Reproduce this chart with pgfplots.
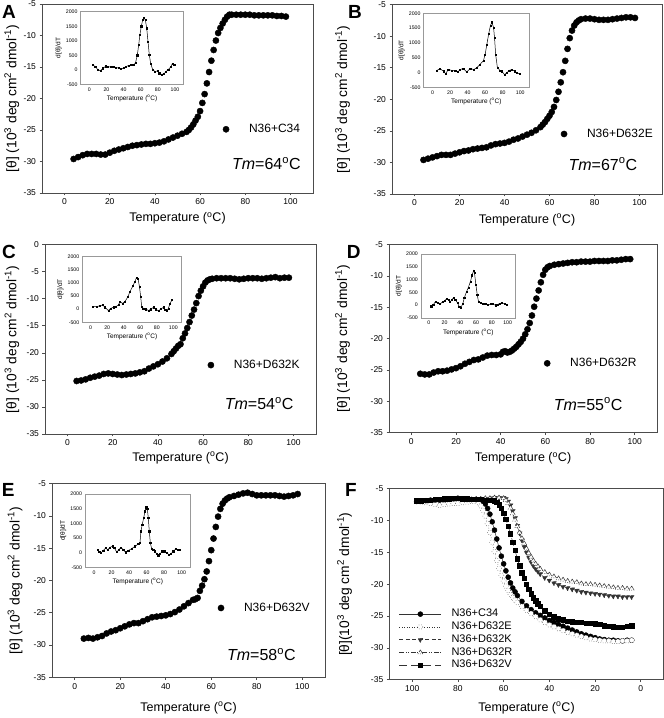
\documentclass[border=0pt]{standalone}
\usepackage{fontspec}
\setmainfont{Liberation Sans}
\usepackage{pgfplots}
\pgfplotsset{compat=1.18}
\usepackage{pgfplotstable}

% ---------- main curves (temperature, ellipticity) ----------
\pgfplotstableread{
t v
4 -29.6
6 -29.3
8 -29.0
10 -28.8
12 -28.8
14 -28.8
16 -28.9
18 -28.9
20 -28.6
22 -28.3
24 -28.1
26 -27.9
28 -27.7
30 -27.5
32 -27.4
34 -27.3
36 -27.2
38 -27.2
40 -27.1
42 -27.0
44 -26.8
46 -26.5
48 -26.2
50 -25.9
52 -25.6
54 -25.3
55 -25.0
56 -24.6
57 -24.1
58 -23.5
59 -22.9
60 -22.0
61 -20.7
62 -19.3
63 -17.6
64 -15.8
65 -14.0
66 -12.3
67 -10.8
68 -9.6
69 -8.8
70 -8.1
71 -7.5
72 -7.0
73 -6.7
74 -6.7
76 -6.7
78 -6.7
80 -6.7
82 -6.7
84 -6.8
86 -6.8
88 -6.8
90 -6.8
92 -6.8
94 -6.9
96 -6.9
98 -7.0
}\datA

\pgfplotstableread{
t v
4 -29.6
6 -29.4
8 -29.2
10 -29.0
12 -28.8
14 -28.8
16 -28.8
18 -28.6
20 -28.4
22 -28.2
24 -28.1
26 -27.9
28 -27.8
30 -27.7
32 -27.6
34 -27.3
36 -27.1
38 -27.0
40 -26.9
42 -26.7
44 -26.4
46 -26.2
48 -25.9
50 -25.6
52 -25.3
54 -24.9
56 -24.4
57 -24.0
58 -23.6
59 -23.1
60 -22.6
61 -22.0
62 -21.2
63 -20.1
64 -18.8
65 -17.3
66 -15.7
67 -13.9
68 -12.0
69 -10.3
70 -9.1
71 -8.3
72 -7.8
73 -7.5
74 -7.3
76 -7.2
78 -7.2
80 -7.3
82 -7.4
84 -7.4
86 -7.4
88 -7.3
90 -7.2
92 -7.1
94 -7.0
96 -7.0
98 -7.1
}\datB

\pgfplotstableread{
t v
4 -25.2
6 -25.1
8 -24.9
10 -24.6
12 -24.4
14 -24.2
16 -23.9
18 -23.8
20 -23.9
22 -24.0
24 -24.1
26 -24.0
28 -23.9
30 -23.8
32 -23.6
34 -23.4
36 -22.9
38 -22.5
40 -22.1
42 -21.6
44 -21.0
46 -20.2
47 -19.7
48 -19.2
49 -18.7
50 -18.4
51 -17.3
52 -16.4
53 -15.4
54 -14.3
55 -13.1
56 -12.0
57 -10.8
58 -9.5
59 -8.5
60 -7.7
61 -7.0
62 -6.6
63 -6.4
64 -6.3
66 -6.2
68 -6.2
70 -6.2
72 -6.2
74 -6.3
76 -6.4
78 -6.3
80 -6.2
82 -6.2
84 -6.2
86 -6.3
88 -6.2
90 -6.1
92 -6.0
94 -6.2
96 -6.1
98 -6.1
}\datC

\pgfplotstableread{
t v
4 -25.6
6 -25.7
8 -25.7
10 -25.4
12 -25.2
14 -25.2
16 -25.1
18 -24.9
20 -24.7
22 -24.4
24 -24.0
26 -23.7
28 -23.4
30 -23.3
32 -23.0
34 -22.7
36 -22.6
38 -22.6
40 -22.5
41 -22.1
42 -22.0
43 -22.2
44 -22.1
45 -21.9
46 -21.6
47 -21.3
48 -20.9
49 -20.5
50 -20.0
51 -19.3
52 -18.5
53 -17.5
54 -16.3
55 -14.9
56 -13.6
57 -12.3
58 -11.0
59 -9.8
60 -9.0
61 -8.6
62 -8.4
64 -8.2
66 -8.1
68 -8.0
70 -7.9
72 -7.8
74 -7.8
76 -7.7
78 -7.7
80 -7.7
82 -7.6
84 -7.6
86 -7.6
88 -7.6
90 -7.5
92 -7.5
94 -7.4
96 -7.3
98 -7.3
}\datD

\pgfplotstableread{
t v
4 -29.0
6 -28.9
8 -29.0
10 -28.8
12 -28.6
14 -28.2
16 -27.9
18 -27.7
20 -27.4
22 -27.1
24 -26.8
26 -26.6
28 -26.6
30 -26.3
32 -26.0
34 -25.7
36 -25.6
38 -25.5
40 -25.4
42 -25.2
44 -24.9
46 -24.5
48 -24.0
50 -23.5
52 -23.0
53 -22.9
54 -22.7
55 -21.6
56 -20.8
57 -19.8
58 -18.6
59 -17.0
60 -15.3
61 -13.5
62 -11.7
63 -10.1
64 -8.9
65 -8.1
66 -7.6
67 -7.3
68 -7.1
70 -6.9
72 -6.7
74 -6.5
76 -6.4
78 -6.6
80 -6.8
82 -6.8
84 -6.8
86 -6.8
88 -6.8
90 -6.9
92 -7.0
94 -6.9
96 -6.8
98 -6.6
}\datE

% ---------- insets: d[theta]/dT ----------
\pgfplotstableread{
t d
4 180
7 100
10 10
13 -40
16 50
19 120
22 100
25 100
28 100
31 80
34 60
37 30
40 60
43 110
46 150
49 160
52 160
54 250
56 500
57.6 850
59 1200
60.7 1500
62.3 1720
63.8 1800
65.4 1710
67 1430
68.5 970
70 510
71.6 220
74 0
76.7 -60
79.4 -40
81.7 -120
84.4 -160
87 -140
89.5 -60
92 0
95 100
97 220
99 180
}\insA

\pgfplotstableread{
t d
5 70
8.7 125
12.5 45
15 -45
18 100
22 70
26 70
29 20
31.5 100
35 135
39 20
43 135
47 100
50.5 160
54 270
58 390
60 610
62 950
64 1300
66 1580
67.7 1700
69.6 1520
70.7 1180
72 610
74 160
77 70
79 45
82 -70
85 -10
87.5 70
90.5 100
93.5 45
96 -10
99 -40
}\insB

\pgfplotstableread{
t d
3 95
7 95
11 130
14.5 160
17.5 70
21.5 -55
24 30
27.5 70
30.5 95
33.5 160
35.5 285
38.5 220
41.5 285
45 475
47.5 665
51 880
53.5 1050
55.5 1210
57.3 1170
59 860
60.5 475
61.7 95
63.7 30
67 0
70 -55
72.5 0
76 70
79 0
82 -70
84.7 5
88 70
90.3 -30
92 -70
94 30
96 220
98.4 350
}\insC

\pgfplotstableread{
t d
3 -45
5.6 20
8.6 150
11.6 85
14.2 45
17.2 125
20.2 175
22.7 255
24.9 215
27 125
29.2 215
31.3 280
33.5 215
36.5 85
38.6 -70
40.8 -85
42.9 45
45 280
47.6 515
50.2 695
52.8 930
54.9 1170
56.7 1350
57.9 1260
59.7 800
61.4 410
63.1 125
65.7 85
68.7 60
71.7 45
75 20
78.5 45
81.5 45
84.5 -5
87 20
90 70
93 85
96.6 60
98.7 20
}\insD

\pgfplotstableread{
t d
4 90
6 20
8 -10
10.6 70
13.3 160
15.6 100
18.3 180
21 215
23.2 160
26 20
28.5 100
30.8 180
33.5 100
36 10
39 70
43 135
46.8 215
50.6 295
52.5 350
53.6 730
55 950
56.7 1180
58.2 1410
59.7 1545
60.8 1500
62 1180
63.1 730
64.3 330
65.8 135
67.7 100
69.6 45
71.5 -45
73.4 -90
75.3 -45
78 45
80.2 45
83 -10
85.6 -70
87.8 -45
90.5 45
93.2 125
95.4 100
98 90
}\insE

% ---------- panel F (cooling) ----------
\pgfplotstableread{
t v
98 -7.0
96 -6.9
94 -6.9
92 -6.8
90 -6.8
88 -6.8
86 -6.8
84 -6.7
82 -6.7
80 -6.5
78 -6.6
76 -6.7
74 -6.7
72 -6.7
70 -6.8
69 -7.0
68 -7.4
67 -8.1
66 -9.0
65 -10.2
64 -11.5
63 -12.9
62 -14.3
61 -15.6
60 -16.8
59 -17.9
58 -18.9
57 -19.8
56 -20.6
55 -21.2
54 -21.8
52 -22.7
50 -23.4
48 -24.0
46 -24.5
44 -24.9
42 -25.3
40 -25.7
38 -26.0
36 -26.3
34 -26.6
32 -26.9
30 -27.2
28 -27.5
26 -27.8
24 -28.0
22 -28.2
20 -28.4
18 -28.6
16 -28.7
14 -28.8
12 -28.8
10 -28.9
8 -28.9
6 -28.8
4 -28.8
}\fC

\pgfplotstableread{
t v
98 -7.0
96 -7.1
94 -7.2
92 -7.3
90 -7.5
88 -7.6
86 -7.5
84 -7.4
82 -7.3
80 -7.3
78 -7.2
76 -7.1
74 -7.0
72 -7.0
71 -7.2
70 -7.7
69 -8.4
68 -9.3
67 -10.5
66 -11.9
65 -13.4
64 -14.9
63 -16.3
62 -17.5
61 -18.6
60 -19.5
59 -20.3
58 -21.0
57 -21.6
56 -22.1
55 -22.5
54 -22.9
52 -23.5
50 -24.1
48 -24.6
46 -25.1
44 -25.6
42 -26.0
40 -26.4
38 -26.7
36 -27.0
34 -27.3
32 -27.6
30 -27.8
28 -28.0
26 -28.2
24 -28.4
22 -28.6
20 -28.7
18 -28.8
16 -28.9
14 -28.9
12 -29.0
10 -29.0
8 -28.9
6 -28.9
4 -28.8
}\fE

\pgfplotstableread{
t v
98 -6.9
96 -6.9
94 -6.9
92 -6.8
90 -6.8
88 -6.7
86 -6.7
84 -6.6
82 -6.6
80 -6.5
78 -6.6
76 -6.7
74 -6.7
72 -6.7
70 -6.6
68 -6.6
66 -6.5
64 -6.4
62 -6.4
60 -6.4
59 -6.6
58 -7.0
57 -7.6
56 -8.5
55 -9.6
54 -10.8
53 -12.0
52 -13.1
51 -14.1
50 -15.0
49 -15.8
48 -16.5
47 -17.1
46 -17.6
45 -18.0
44 -18.4
42 -19.0
40 -19.4
38 -19.8
36 -20.1
34 -20.4
32 -20.6
30 -20.8
28 -21.0
26 -21.2
24 -21.3
22 -21.4
20 -21.5
18 -21.6
16 -21.7
14 -21.8
12 -21.9
10 -21.9
8 -22.0
6 -22.0
4 -22.0
}\fK

\pgfplotstableread{
t v
98 -7.0
96 -7.0
94 -6.9
92 -6.9
90 -6.8
88 -6.8
86 -6.7
84 -6.7
82 -6.6
80 -6.6
78 -6.7
76 -6.7
74 -6.7
72 -6.6
70 -6.6
68 -6.5
66 -6.5
64 -6.4
62 -6.4
60 -6.5
59 -6.8
58 -7.3
57 -8.0
56 -8.9
55 -9.9
54 -10.9
53 -11.9
52 -12.8
51 -13.6
50 -14.4
49 -15.1
48 -15.7
47 -16.3
46 -16.8
45 -17.2
44 -17.6
42 -18.1
40 -18.5
38 -18.8
36 -19.1
34 -19.3
32 -19.5
30 -19.6
28 -19.7
26 -19.9
24 -20.0
22 -20.0
20 -20.1
18 -20.2
16 -20.3
14 -20.4
12 -20.5
10 -20.6
8 -20.6
6 -20.7
4 -20.7
}\fR

\pgfplotstableread{
t v
98 -6.9
96 -6.9
94 -6.8
92 -6.8
90 -6.7
88 -6.7
86 -6.6
84 -6.6
82 -6.5
80 -6.5
78 -6.6
76 -6.6
74 -6.7
72 -6.7
70 -6.7
68 -6.8
66 -6.8
64 -6.9
63 -7.1
62 -7.5
61 -8.1
60 -8.9
59 -9.8
58 -10.9
57 -12.1
56 -13.4
55 -14.7
54 -16.0
53 -17.1
52 -18.2
51 -19.1
50 -20.0
49 -20.8
48 -21.5
47 -22.1
46 -22.6
45 -23.1
44 -23.5
42 -24.2
40 -24.7
38 -25.1
36 -25.4
34 -25.6
32 -25.8
30 -25.9
28 -26.0
26 -26.0
24 -26.1
22 -26.1
20 -26.2
18 -26.3
16 -26.5
14 -26.6
12 -26.7
10 -26.8
8 -26.8
6 -26.6
4 -26.5
}\fV

\tikzset{
  tmnode/.style={font=\fontsize{16}{18}\selectfont, anchor=center},
  letter/.style={font=\bfseries\fontsize{19}{20}\selectfont, anchor=center},
}

\pgfplotsset{
  mainax/.style={
    scale only axis, anchor=south west,
    xmin=-10, xmax=110, ymin=-35,
    xtick={0,20,...,100}, ytick={-35,-30,...,0},
    axis line style={black!70, line width=0.7pt},
    tick style={black!70, line width=0.7pt},
    tick align=outside, major tick length=2.5pt,
    xtick pos=bottom, ytick pos=left,
    /pgf/number format/assume math mode=true,
    ticklabel style={font=\fontsize{8.5}{10}\selectfont},
    xlabel style={font=\fontsize{12.5}{14}\selectfont},
    ylabel style={font=\fontsize{13.8}{15}\selectfont},
    xlabel={Temperature (\textsuperscript{o}C)},
    ylabel={[θ] (10\textsuperscript{3} deg cm\textsuperscript{2} dmol\textsuperscript{-1})},
    legend style={draw=none, fill=none, font=\fontsize{12}{14}\selectfont,
      anchor=west, inner sep=0pt, nodes={inner sep=1pt}},
    legend image code/.code={\draw[##1, only marks] plot coordinates {(0pt,0pt)}; \path[draw=none, fill=none] (0pt,0pt) (22pt,0pt);},
  },
  dots/.style={only marks, mark=*, mark size=3.1pt, black},
  insetax/.style={
    scale only axis, anchor=south west,
    xmin=-10, xmax=110, ymin=-500, ymax=2000,
    xtick={0,20,...,100}, ytick={-500,0,...,2000},
    axis line style={black!40, line width=0.5pt},
    major tick length=0pt,
    /pgf/number format/assume math mode=true,
    /pgf/number format/set thousands separator={},
    ticklabel style={font=\fontsize{5.2}{6}\selectfont, inner sep=3pt},
    label style={font=\fontsize{6.5}{7.5}\selectfont, inner sep=1pt},
    xlabel={Temperature (\textsuperscript{o}C)},
    ylabel={d[θ]/dT},
    axis background/.style={fill=white},
  },
  insline/.style={black, line width=0.5pt, mark=square*, mark size=0.6pt},
}

\begin{document}
\begin{tikzpicture}
\path[use as bounding box] (0pt,0pt) rectangle (664pt,718pt);

% ---- A ----
\begin{axis}[mainax, at={(42pt,525pt)}, width=271pt, height=189pt, ymax=-5,
  xlabel style={at={(axis description cs:0.5,-0.134)}, anchor=center},
  ylabel style={at={(axis description cs:-0.111,0.5)}, anchor=center},
  legend style={at={(axis description cs:0.667,0.337)}}]
\addplot[dots] table[x=t, y=v] {\datA};
\addlegendentry{N36+C34}
\node[tmnode] at (axis description cs:0.828,0.157) {\textit{Tm}=64\textsuperscript{o}C};
\end{axis}
\begin{axis}[insetax, at={(80.7pt,633.7pt)}, width=102.9pt, height=72.6pt]
\addplot[insline] table[x=t, y=d] {\insA};
\end{axis}

% ---- B ----
\begin{axis}[mainax, at={(392pt,524pt)}, width=270pt, height=189.3pt, ymax=-5,
  xlabel style={at={(axis description cs:0.5,-0.137)}, anchor=center},
  ylabel style={at={(axis description cs:-0.183,0.5)}, anchor=center},
  legend style={at={(axis description cs:0.625,0.317)}}]
\addplot[dots] table[x=t, y=v] {\datB};
\addlegendentry{N36+D632E}
\node[tmnode] at (axis description cs:0.781,0.158) {\textit{Tm}=67\textsuperscript{o}C};
\end{axis}
\begin{axis}[insetax, at={(423.7pt,630.7pt)}, width=105.3pt, height=74pt]
\addplot[insline] table[x=t, y=d] {\insB};
\end{axis}

% ---- C ----
\begin{axis}[mainax, at={(45pt,284pt)}, width=271pt, height=189.3pt, ymax=0,
  xlabel style={at={(axis description cs:0.5,-0.127)}, anchor=center},
  ylabel style={at={(axis description cs:-0.122,0.5)}, anchor=center},
  legend style={at={(axis description cs:0.600,0.364)}}]
\addplot[dots] table[x=t, y=v] {\datC};
\addlegendentry{N36+D632K}
\node[tmnode] at (axis description cs:0.790,0.162) {\textit{Tm}=54\textsuperscript{o}C};
\end{axis}
\begin{axis}[insetax, at={(82.4pt,395.7pt)}, width=99.2pt, height=65.6pt]
\addplot[insline] table[x=t, y=d] {\insC};
\end{axis}

% ---- D ----
\begin{axis}[mainax, at={(389pt,285.3pt)}, width=268pt, height=188pt, ymax=-5,
  xlabel style={at={(axis description cs:0.5,-0.136)}, anchor=center},
  ylabel style={at={(axis description cs:-0.173,0.5)}, anchor=center},
  legend style={at={(axis description cs:0.578,0.369)}}]
\addplot[dots] table[x=t, y=v] {\datD};
\addlegendentry{N36+D632R}
\node[tmnode] at (axis description cs:0.743,0.153) {\textit{Tm}=55\textsuperscript{o}C};
\end{axis}
\begin{axis}[insetax, at={(421pt,400pt)}, width=94.5pt, height=64pt]
\addplot[insline] table[x=t, y=d] {\insD};
\end{axis}

% ---- E ----
\begin{axis}[mainax, at={(52pt,40.7pt)}, width=273pt, height=193.6pt, ymax=-5,
  xlabel style={at={(axis description cs:0.5,-0.159)}, anchor=center},
  ylabel style={at={(axis description cs:-0.135,0.5)}, anchor=center},
  legend style={at={(axis description cs:0.607,0.358)}}]
\addplot[dots] table[x=t, y=v] {\datE};
\addlegendentry{N36+D632V}
\node[tmnode] at (axis description cs:0.767,0.117) {\textit{Tm}=58\textsuperscript{o}C};
\end{axis}
\begin{axis}[insetax, at={(85.2pt,150.7pt)}, width=105.2pt, height=73.3pt]
\addplot[insline] table[x=t, y=d] {\insE};
\end{axis}

% ---- F ----
\begin{axis}[mainax, at={(389.3pt,38.3pt)}, width=274.4pt, height=191pt, ymax=-5,
  x dir=reverse,
  ylabel={[θ](10\textsuperscript{3} deg cm\textsuperscript{2} dmol\textsuperscript{-1})},
  xlabel style={at={(axis description cs:0.5,-0.148)}, anchor=center},
  ylabel style={at={(axis description cs:-0.163,0.5)}, anchor=center},
  legend cell align=left,
  legend style={at={(axis description cs:0.035,0.376)}, anchor=north west,
    font=\fontsize{11}{13}\selectfont,
    nodes={inner sep=1.2pt, text height=7.5pt, text depth=2.2pt}, row sep=0.7pt},
  legend image code/.code={\draw[mark repeat=2,mark phase=2,#1] plot coordinates {(0pt,0pt) (21pt,0pt) (42pt,0pt)}; \path[draw=none] (0pt,0pt) (51pt,0pt);},
  every axis plot/.append style={black!80, line width=0.5pt, mark options={solid, black, line width=0.5pt}}]
\addplot[solid, mark=*, mark size=2.5pt] table[x=t, y=v] {\fC};
\addlegendentry{N36+C34}
\addplot[dotted, mark=*, mark size=2.5pt, mark options={fill=white}] table[x=t, y=v] {\fE};
\addlegendentry{N36+D632E}
\addplot[dash pattern=on 4pt off 2.5pt, mark=triangle*, mark size=2.7pt, mark options={rotate=180}] table[x=t, y=v] {\fK};
\addlegendentry{N36+D632K}
\addplot[dash pattern=on 5pt off 1.5pt on 1pt off 1.5pt on 1pt off 1.5pt, mark=triangle*, mark size=2.7pt, mark options={fill=white}] table[x=t, y=v] {\fR};
\addlegendentry{N36+D632R}
\addplot[dash pattern=on 8pt off 4pt, mark=square*, mark size=2.2pt] table[x=t, y=v] {\fV};
\addlegendentry{N36+D632V}
\end{axis}

% ---- panel letters ----
\node[letter] at (9pt,706.5pt) {A};
\node[letter] at (355pt,706.3pt) {B};
\node[letter] at (9pt,466.3pt) {C};
\node[letter] at (353.7pt,466.3pt) {D};
\node[letter] at (8.3pt,228pt) {E};
\node[letter] at (351pt,228pt) {F};
\end{tikzpicture}
\end{document}
